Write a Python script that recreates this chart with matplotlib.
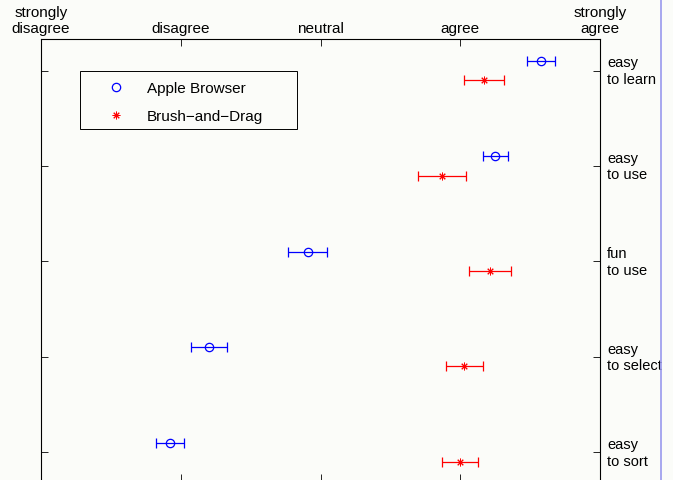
import matplotlib
matplotlib.use("Agg")
import matplotlib.pyplot as plt
from matplotlib.lines import Line2D
from matplotlib.patches import Rectangle
import numpy as np

plt.rcParams['font.family'] = ['Liberation Sans', 'DejaVu Sans']

categories = ["easy\nto learn", "easy\nto use", "fun\nto use", "easy\nto select", "easy\nto sort"]
apple_mean = [4.58, 4.25, 2.91, 2.20, 1.92]
apple_err = [0.10, 0.09, 0.14, 0.13, 0.10]
brush_mean = [4.17, 3.87, 4.21, 4.03, 4.00]
brush_err = [0.14, 0.17, 0.15, 0.13, 0.13]
scale_labels = ["strongly\ndisagree", "disagree", "neutral", "agree", "strongly\nagree"]
series_names = ["Apple Browser", "Brush\u2212and\u2212Drag"]

W, H = 673, 481
bg = '#fbfcf9'
fig = plt.figure(figsize=(W / 100, H / 100), dpi=100, facecolor=bg)
ax = fig.add_axes([41 / W, (H - 482) / H, 559 / W, 442 / H], facecolor=bg)

star = (8, 2, 0)
pos = np.arange(1, len(categories) + 1)
ax.errorbar(apple_mean, pos - 0.1, xerr=apple_err, fmt='o', color='blue',
            mfc='none', mec='blue', ms=6, mew=0.9, elinewidth=0.9, capsize=3.5,
            capthick=0.9)
ax.errorbar(brush_mean, pos + 0.1, xerr=brush_err, fmt='none', color='red',
            elinewidth=0.9, capsize=3.5, capthick=0.9)
ax.plot(brush_mean, pos + 0.1, linestyle='none', marker=star, color='red',
        ms=5.5, mew=0.7)

ax.set_xlim(1, 5)
ax.set_ylim(5.3, 0.67)
ax.set_xticks(range(1, 6))
ax.set_xticklabels(scale_labels, fontsize=11)
ax.xaxis.set_ticks_position('both')
ax.xaxis.set_label_position('top')
ax.tick_params(axis='x', labeltop=True, labelbottom=False, direction='in',
               length=5, width=0.6, pad=3)
ax.set_yticks(pos)
ax.set_yticklabels(categories, fontsize=10.5, ha='left', linespacing=1.25)
ax.yaxis.set_ticks_position('both')
ax.tick_params(axis='y', labelright=True, labelleft=False, direction='in',
               length=5, width=0.6, pad=5)
for lbl in ax.get_yticklabels():
    lbl.set_verticalalignment('center')
for s in ['left', 'right', 'top']:
    ax.spines[s].set_linewidth(0.8)
ax.spines['bottom'].set_visible(False)

handles = [
    Line2D([], [], linestyle='none', marker='o', mfc='none', mec='blue', ms=6, mew=0.9),
    Line2D([], [], linestyle='none', marker=star, color='red', ms=5.5, mew=0.7),
]
leg = ax.legend(handles, series_names, loc='upper left',
                bbox_to_anchor=((88 - 41) / 559, (482 - 73) / 442),
                fontsize=11, frameon=False,
                borderpad=0.6, handletextpad=0.75, labelspacing=0.9, borderaxespad=0,
                handlelength=2.5)

# legend frame drawn in figure pixel coordinates
fig.add_artist(Rectangle((80 / W, (H - 130) / H), (297 - 80) / W, (130 - 72) / H,
                         transform=fig.transFigure, fill=False, edgecolor='black',
                         lw=0.7, zorder=10))

fig.add_artist(Line2D([661 / W, 661 / W], [0, 1], color='#9999ee', lw=1.2,
                      transform=fig.transFigure))

fig.savefig('out.png', dpi=100, facecolor=bg)
